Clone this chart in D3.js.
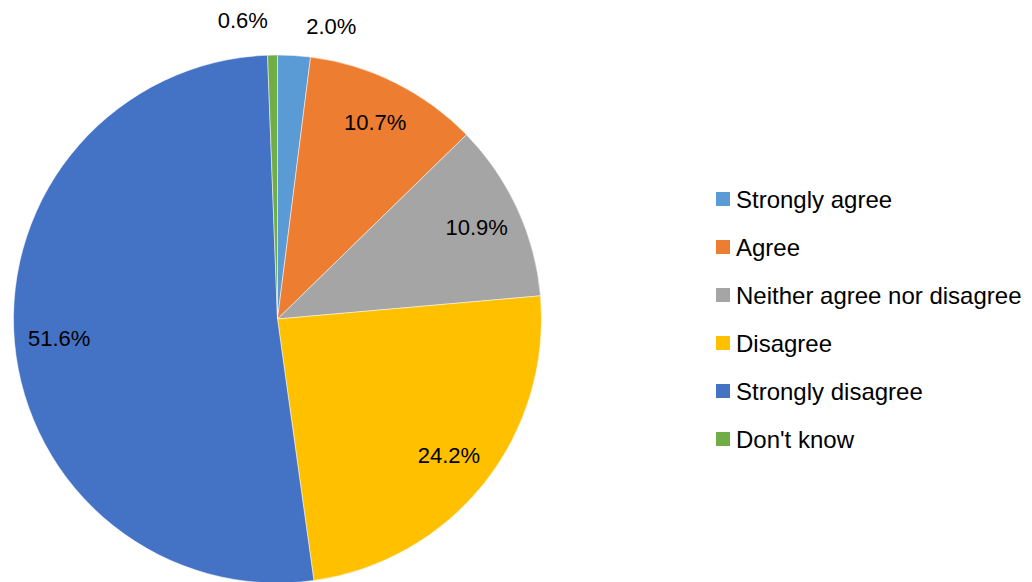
<!DOCTYPE html>
<html>
<head>
<script src="https://d3js.org/d3.v7.min.js"></script>
<style>
  body { margin: 0; background: #fff; }
  text { font-family: "Liberation Sans", Arial, sans-serif; fill: #000; }
</style>
</head>
<body>
<svg class="chart"></svg>
<script>
var categories = ["Strongly agree", "Agree", "Neither agree nor disagree", "Disagree", "Strongly disagree", "Don't know"];
var values = [2.0, 10.7, 10.9, 24.2, 51.6, 0.6];
var colors = ["#5B9BD5", "#ED7D31", "#A5A5A5", "#FFC000", "#4472C4", "#70AD47"];

var svgWidth = 1032, svgHeight = 582,
    cx = 277.5, cy = 319, radius = 264;

var data = categories.map((c, i) => ({ name: c, value: values[i], color: colors[i] }));

var svg = d3.select(".chart")
    .attr("width", svgWidth)
    .attr("height", svgHeight);

var pie = d3.pie().sort(null).value(d => d.value);
var arc = d3.arc().innerRadius(0).outerRadius(radius);
var labelArc = d3.arc().innerRadius(radius * 0.83).outerRadius(radius * 0.83);
var outerArc = d3.arc().innerRadius(radius + 33).outerRadius(radius + 33);

var arcs = pie(data);

var g = svg.append("g").attr("transform", "translate(" + cx + "," + cy + ")");

g.selectAll("path.slice")
    .data(arcs).enter().append("path")
    .attr("class", "slice")
    .attr("d", arc)
    .attr("fill", d => d.data.color)
    .attr("stroke", "#fff")
    .attr("stroke-width", 0.5);

// small slices get their label outside the pie
var isSmall = d => d.data.value < 5;

g.selectAll("text.lbl")
    .data(arcs).enter().append("text")
    .attr("class", "lbl")
    .attr("font-size", 22)
    .attr("dominant-baseline", "central")
    .attr("text-anchor", d => {
        if (!isSmall(d)) return "middle";
        var mid = (d.startAngle + d.endAngle) / 2;
        return mid < Math.PI ? "start" : "end";
    })
    .attr("transform", d => {
        var p = isSmall(d) ? outerArc.centroid(d) : labelArc.centroid(d);
        if (isSmall(d)) {
            var mid = (d.startAngle + d.endAngle) / 2;
            p[0] += mid < Math.PI ? 10 : -4;
            p[1] += mid < Math.PI ? 4 : -2;
        }
        return "translate(" + p + ")";
    })
    .text(d => d.data.value.toFixed(1) + "%");

// legend
var legendY = d3.scalePoint().domain(categories).range([199, 439]);
var legend = svg.append("g");
var items = legend.selectAll("g")
    .data(data).enter().append("g")
    .attr("transform", d => "translate(716," + legendY(d.name) + ")");

items.append("rect")
    .attr("x", 0).attr("y", -7)
    .attr("width", 14).attr("height", 14)
    .attr("fill", d => d.color);

items.append("text")
    .attr("x", 20)
    .attr("font-size", 24)
    .attr("dominant-baseline", "central")
    .text(d => d.name);
</script>
</body>
</html>
